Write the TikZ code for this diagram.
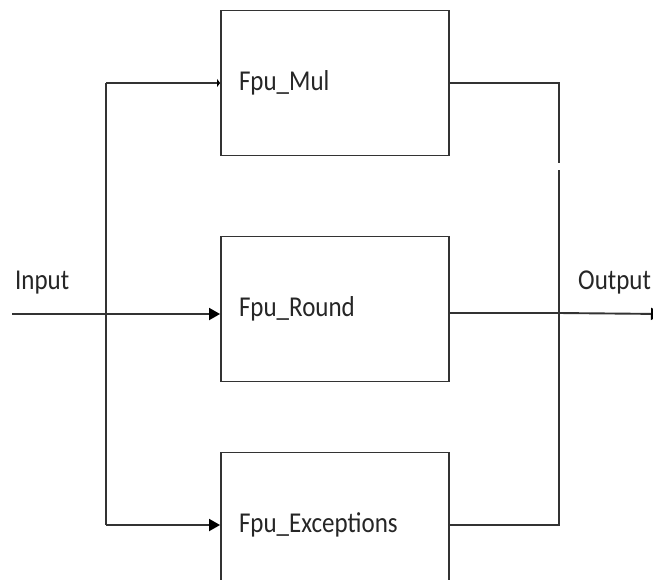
\documentclass[tikz,border=0pt]{standalone}
\usepackage{fontspec}
\setmainfont{Carlito}
\usetikzlibrary{arrows.meta}
\tikzset{
  wire/.style={draw=black!80, line width=1.9pt},
  arr/.style={wire, -{Triangle[length=11pt,width=12pt,color=black]}},
  tinyarr/.style={wire, -{Triangle[length=3pt,width=8pt,color=black]}},
  blk/.style={draw=black!80, line width=1.9pt, minimum width=228pt, minimum height=145pt,
    text width=192pt, align=left, inner sep=0pt, font=\fontsize{25}{28}\selectfont, text=black!85},
  lbl/.style={font=\fontsize{25}{28}\selectfont, text=black!85, inner sep=0pt, anchor=base west}
}
\begin{document}
\begin{tikzpicture}[x=1pt,y=-1pt]
\useasboundingbox (0,0) rectangle (653,579);
\clip (0,0) rectangle (653,579);
\fill[white] (0,0) rectangle (653,579);
% blocks
\node[blk] (mul) at (335,83) {\scalebox{1}[1.15]{Fpu\_Mul}};
\node[blk] (rnd) at (335,309) {\scalebox{1}[1.15]{Fpu\_Round}};
\node[blk] (exc) at (335,525) {\scalebox{1}[1.15]{Fpu\_Exceptions}};
% labels
\node[lbl] (inl) at (15,289) {\scalebox{1}[1.15]{Input}};
\node[lbl] (outl) at (578,289) {\scalebox{1}[1.15]{Output}};
% coordinates
\coordinate (inp) at (12,314);
\coordinate (split) at (106,314);
\coordinate (ttop) at (106,83);
\coordinate (tbot) at (106,525);
\coordinate (g1) at (559,163);
\coordinate (g2) at (559,170);
\coordinate (outj) at (559,313);
\coordinate (outp) at (662,314);
% input side
\draw[arr] (inp) -- (split -| rnd.west);
\draw[tinyarr] (ttop) -- (mul.west);
\draw[wire] (ttop) -- (tbot);
\draw[arr] (tbot) -- (exc.west);
% output side
\draw[wire] (mul.east) -| (g1);
\draw[wire] (g2) |- (exc.east);
\draw[wire] (outj -| rnd.east) -- (outj);
\draw[arr] (outj) -- (outp);
\end{tikzpicture}
\end{document}
